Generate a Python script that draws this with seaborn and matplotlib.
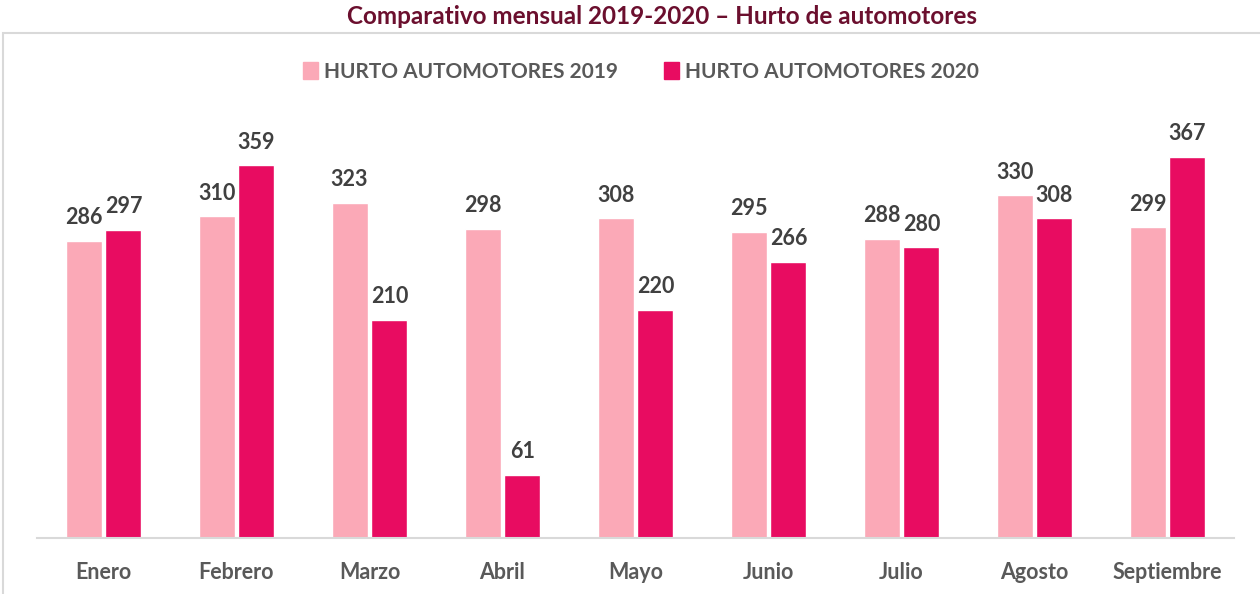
import pandas as pd
import matplotlib.pyplot as plt
import seaborn as sns
from matplotlib.patches import Rectangle

meses = ["Enero", "Febrero", "Marzo", "Abril", "Mayo", "Junio", "Julio", "Agosto", "Septiembre"]
hurto_2019 = [286, 310, 323, 298, 308, 295, 288, 330, 299]
hurto_2020 = [297, 359, 210, 61, 220, 266, 280, 308, 367]
series = ["HURTO AUTOMOTORES 2019", "HURTO AUTOMOTORES 2020"]

df = pd.DataFrame({
    "mes": meses * 2,
    "valor": hurto_2019 + hurto_2020,
    "serie": [series[0]] * len(meses) + [series[1]] * len(meses),
})

sns.set_style("white")
plt.rcParams["font.family"] = ["Lato", "DejaVu Sans"]

fig = plt.figure(figsize=(12.6, 5.94), dpi=100)
ax = fig.add_axes([37 / 1260, 56 / 594, 1197 / 1260, 415.4 / 594])

# marco gris del área del gráfico
fig.patches.append(Rectangle((3 / 1260, -0.1), 1.1, (594 - 33) / 594 + 0.1,
                             transform=fig.transFigure, fill=False,
                             edgecolor="#D9D9D9", linewidth=1.5))

colores = ["#FBA9B7", "#E80C61"]
sns.barplot(data=df, x="mes", y="valor", hue="serie", palette=colores,
            width=0.6, gap=0.1, saturation=1, ax=ax, legend=False)

for cont in ax.containers:
    ax.bar_label(cont, fmt="%d", padding=9, fontsize=15.5, fontweight="bold", color="#404040")

ax.set_ylim(0, 400)
ax.set_xlim(-0.5, len(meses) - 0.5)
ax.set_xlabel("")
ax.set_ylabel("")
ax.set_yticks([])
ax.tick_params(axis="x", length=0, pad=17, labelsize=15.5, labelcolor="#595959")
for t in ax.get_xticklabels():
    t.set_fontweight("bold")
for s in ["top", "left", "right"]:
    ax.spines[s].set_visible(False)
ax.spines["bottom"].set_color("#D9D9D9")
ax.spines["bottom"].set_linewidth(1.5)

handles = [Rectangle((0, 0), 1, 1, color=c) for c in colores]
fig.legend(handles, series, loc="center", bbox_to_anchor=(641 / 1260, 1 - 72 / 594),
           ncol=2, frameon=False, handlelength=0.7, handleheight=0.9, handletextpad=0.3,
           columnspacing=2.2, prop={"size": 15, "weight": "bold"}, labelcolor="#595959")

fig.text(662 / 1260, 1 - 17 / 594, "Comparativo mensual 2019-2020 – Hurto de automotores",
         ha="center", va="center", fontsize=17.5, fontweight="bold", color="#6B0F2E")

plt.savefig("out.png", dpi=100)
